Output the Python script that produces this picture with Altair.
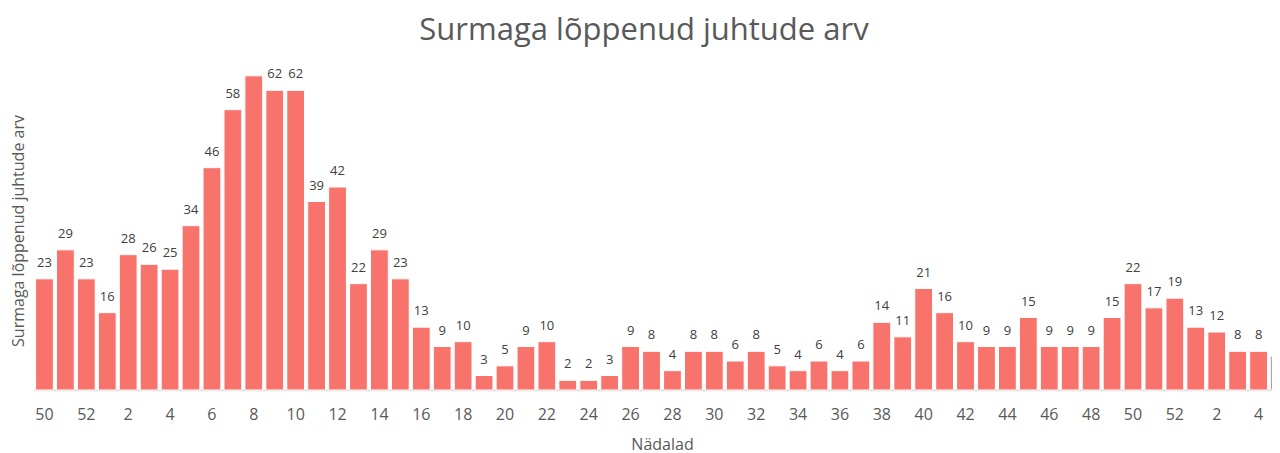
import altair as alt
import pandas as pd

years = [2020, 2020, 2020] + [2021] * 52 + [2022] * 5
weeks = [50, 51, 52,
         1, 2, 3, 4, 5, 6, 7, 8, 9, 10, 11, 12, 13, 14, 15, 16, 17, 18, 19, 20,
         21, 22, 23, 24, 25, 26, 27, 28, 29, 30, 31, 32, 33, 34, 35, 36, 37, 38, 39, 40,
         41, 42, 43, 44, 45, 46, 47, 48, 49, 50, 51, 52,
         1, 2, 3, 4, 5]
deaths = [23, 29, 23,
          16, 28, 26, 25, 34, 46, 58, 65, 62, 62, 39, 42, 22, 29, 23, 13, 9, 10,
          3, 5, 9, 10, 2, 2, 3, 9, 8, 4, 8, 8, 6, 8, 5, 4, 6, 4, 6, 14,
          11, 21, 16, 10, 9, 9, 15, 9, 9, 9, 15, 22, 17, 19,
          13, 12, 8, 8, 7]

keys = [f"{y}-{w}" for y, w in zip(years, weeks)]
df = pd.DataFrame({"key": keys, "week": weeks, "deaths": deaths})
shown = keys[::2]

x = alt.X("key:N", sort=keys, title="Nädalad",
          scale=alt.Scale(paddingInner=0.15, paddingOuter=0.075, range=[0, 1256]),
          axis=alt.Axis(values=shown, labelExpr="split(datum.value, '-')[1]",
                        labelAngle=0, ticks=False, grid=False,
                        domainColor="#d9d9d9", domainWidth=1.5,
                        labelFont="Open Sans", labelFontSize=16, labelColor="#595959",
                        labelPadding=16, titleFont="Open Sans", titleFontSize=16,
                        titleFontWeight="normal", titleColor="#595959", titlePadding=14))
y = alt.Y("deaths:Q", title="Surmaga lõppenud juhtude arv",
          scale=alt.Scale(domain=[0, 66], nice=False),
          axis=alt.Axis(labels=False, ticks=False, grid=False, domain=False,
                        titleFont="Open Sans", titleFontSize=16, titleFontWeight="normal",
                        titleColor="#595959", titlePadding=8))

bars = alt.Chart(df).mark_bar(color="#F8736B", stroke="white", strokeWidth=1).encode(x=x, y=y)
labels = alt.Chart(df).transform_filter("datum.deaths < 64").mark_text(
    baseline="bottom", dy=-9, font="Open Sans", fontSize=13, color="#404040"
).encode(x=alt.X("key:N", sort=keys), y=alt.Y("deaths:Q"), text="deaths:Q")

chart = alt.layer(bars, labels).properties(
    width=1238, height=319,
    autosize=alt.AutoSizeParams(type="none"),
    title=alt.TitleParams("Surmaga lõppenud juhtude arv", font="Open Sans", fontSize=31,
                          fontWeight="normal", color="#595959", anchor="middle",
                          baseline="alphabetic", offset=30, dx=-9, dy=33),
    padding={"left": 26, "top": 63, "right": 0, "bottom": 63},
).configure_view(stroke=None)

chart.save("out.html", embed_options={"renderer": "svg", "actions": False})
